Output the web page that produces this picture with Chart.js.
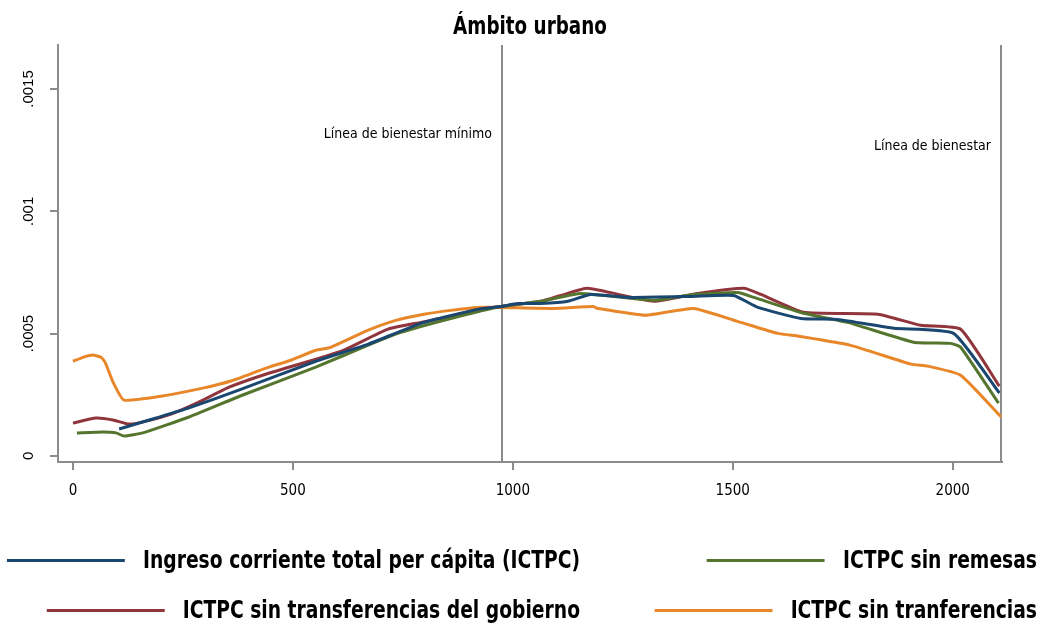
<!DOCTYPE html>
<html lang="es">
<head>
<meta charset="utf-8">
<title>Ámbito urbano</title>
<script src="https://cdn.jsdelivr.net/npm/chart.js@4.4.0/dist/chart.umd.min.js"></script>
<style>
  html, body { margin: 0; padding: 0; background: #fff; }
  #wrap { position: relative; width: 1040px; height: 628px; overflow: hidden; }
  #chart { position: absolute; left: 0; top: 0; }
  .title {
    position: absolute; left: 58px; width: 944px; top: 12px; text-align: center;
    font: bold 24px 'DejaVu Sans Condensed', 'Liberation Sans Narrow', sans-serif; color: #000;
    transform: scaleX(0.85); transform-origin: 472px 0;
  }
  .leg {
    position: absolute; height: 30px; display: flex; justify-content: flex-end; align-items: center;
    font: bold 24px 'DejaVu Sans Condensed', 'Liberation Sans Narrow', sans-serif; color: #000;
    white-space: nowrap; transform: scaleX(0.867); transform-origin: right center;
  }
  .leg i { display: inline-block; flex: 0 0 136px; height: 3px; margin-right: 21px; }
  .leg span { flex: 0 0 auto; }
</style>
</head>
<body>
<div id="wrap">
  <canvas id="chart" width="1040" height="628"></canvas>
  <div class="title">Ámbito urbano</div>
  <div id="legend"></div>
</div>
<script>
// ── DATA ──────────────────────────────────────────────
const xTicks = [0, 500, 1000, 1500, 2000];
const yTicks = [0, 0.0005, 0.001, 0.0015];

// ingreso per cápita (x) y densidad (y) de cada serie
const ictpcX = [105, 189, 264, 377, 552, 670, 791, 920, 973, 1011, 1064, 1125, 1177, 1268, 1405, 1502, 1557, 1655, 1739, 1866, 2002, 2106];
const ictpcY = [0.000110, 0.000155, 0.000196, 0.000269, 0.000387, 0.000456, 0.000542, 0.000599, 0.000611, 0.000623, 0.000623, 0.000632, 0.000660, 0.000648, 0.000652, 0.000656, 0.000607, 0.000562, 0.000558, 0.000522, 0.000501, 0.000257];

const remesasX = [9, 68, 98, 116, 159, 264, 386, 552, 670, 745, 859, 973, 1064, 1155, 1320, 1411, 1511, 1548, 1661, 1761, 1911, 1995, 2018, 2104];
const remesasY = [0.000094, 0.000098, 0.000094, 0.000081, 0.000094, 0.000159, 0.000249, 0.000363, 0.000452, 0.000505, 0.000562, 0.000611, 0.000632, 0.000664, 0.000636, 0.000660, 0.000668, 0.000648, 0.000583, 0.000546, 0.000465, 0.000460, 0.000444, 0.000216];

const gobiernoX = [0, 52, 91, 127, 159, 223, 286, 355, 445, 552, 616, 716, 791, 859, 920, 973, 1064, 1109, 1170, 1320, 1420, 1525, 1564, 1661, 1830, 1927, 2018, 2106];
const gobiernoY = [0.000134, 0.000155, 0.000147, 0.000130, 0.000139, 0.000171, 0.000220, 0.000281, 0.000338, 0.000395, 0.000432, 0.000518, 0.000546, 0.000571, 0.000599, 0.000611, 0.000632, 0.000656, 0.000685, 0.000632, 0.000664, 0.000685, 0.000660, 0.000587, 0.000579, 0.000534, 0.000518, 0.000285];

const transfX = [0, 23, 45, 64, 73, 91, 116, 200, 295, 359, 439, 495, 552, 586, 670, 734, 798, 859, 920, 973, 1093, 1182, 1193, 1302, 1411, 1518, 1602, 1650, 1768, 1905, 1943, 2018, 2110];
const transfY = [0.000387, 0.000403, 0.000412, 0.000403, 0.000383, 0.000302, 0.000228, 0.000244, 0.000277, 0.000306, 0.000359, 0.000391, 0.000432, 0.000444, 0.000513, 0.000554, 0.000579, 0.000595, 0.000607, 0.000607, 0.000603, 0.000611, 0.000603, 0.000575, 0.000603, 0.000546, 0.000501, 0.000489, 0.000452, 0.000375, 0.000367, 0.000330, 0.000159];

const seriesNames  = ['Ingreso corriente total per cápita (ICTPC)', 'ICTPC sin remesas', 'ICTPC sin transferencias del gobierno', 'ICTPC sin tranferencias'];
const seriesColors = ['#1a476f', '#55752f', '#90353b', '#e8872a'];

// líneas de bienestar
const lineasX   = [975, 2110];
const lineasTxt = ['Línea de bienestar mínimo', 'Línea de bienestar'];
const lineasTxtY = [0.001316, 0.001267];

const NARROW = "'DejaVu Sans Condensed', 'Liberation Sans Narrow', sans-serif";
const AXIS_GRAY = '#8c8c8c';

const pts = (xs, ys) => xs.map((x, i) => ({ x, y: ys[i] }));

// ── VERTICAL LINES + LABELS ───────────────────────────
const lineasPlugin = {
  id: 'lineas',
  beforeDatasetsDraw(chart) {
    const { ctx, chartArea, scales: { x, y } } = chart;
    ctx.save();
    ctx.strokeStyle = AXIS_GRAY;
    ctx.lineWidth = 2;
    lineasX.forEach((v, i) => {
      const px = Math.round(x.getPixelForValue(v));
      ctx.beginPath();
      ctx.moveTo(px, chartArea.top);
      ctx.lineTo(px, chartArea.bottom);
      ctx.stroke();
      ctx.fillStyle = '#000';
      ctx.font = `14px ${NARROW}`;
      ctx.textAlign = 'right';
      ctx.textBaseline = 'middle';
      ctx.fillText(lineasTxt[i], px - 10, y.getPixelForValue(lineasTxtY[i]));
    });
    ctx.restore();
  }
};

const datasets = [
  [ictpcX, ictpcY], [remesasX, remesasY], [gobiernoX, gobiernoY], [transfX, transfY]
].map(([xs, ys], i) => ({
  label: seriesNames[i],
  data: pts(xs, ys),
  borderColor: seriesColors[i],
  borderWidth: 3,
  pointRadius: 0,
  tension: 0.15,
  fill: false,
}));

new Chart(document.getElementById('chart'), {
  type: 'line',
  data: { datasets },
  plugins: [lineasPlugin],
  options: {
    responsive: false,
    animation: false,
    layout: { padding: { left: 0, right: 38, top: 45, bottom: 126 } },
    plugins: { legend: { display: false }, tooltip: { enabled: false } },
    scales: {
      x: {
        type: 'linear', min: -34, max: 2112,
        afterBuildTicks: s => { s.ticks = xTicks.map(value => ({ value })); },
        afterFit: s => { s.height = 40; },
        grid: { drawOnChartArea: false, drawTicks: true, tickLength: 8, color: AXIS_GRAY, lineWidth: 2 },
        border: { display: true, color: AXIS_GRAY, width: 2 },
        ticks: {
          color: '#000', font: { family: NARROW, size: 15 }, padding: 12, maxRotation: 0,
          callback: v => String(v),
        },
      },
      y: {
        type: 'linear', min: -0.000025, max: 0.00168,
        afterBuildTicks: s => { s.ticks = yTicks.map(value => ({ value })); },
        afterFit: s => { s.width = 58; },
        grid: { drawOnChartArea: false, drawTicks: true, tickLength: 8, color: AXIS_GRAY, lineWidth: 2 },
        border: { display: true, color: AXIS_GRAY, width: 2 },
        ticks: {
          color: '#000', font: { family: "'Liberation Sans', Arial, sans-serif", size: 15 },
          minRotation: 90, maxRotation: 90, crossAlign: 'center', padding: 2,
          callback: v => v === 0 ? '0' : String(v).replace(/^0/, ''),
        },
      },
    },
  },
});

// ── LEGEND ────────────────────────────────────────────
const legendPos = [
  { left: 0,   width: 580, top: 545 },
  { left: 600, width: 437, top: 545 },
  { left: 0,   width: 580, top: 595 },
  { left: 600, width: 437, top: 595 },
];
document.getElementById('legend').innerHTML = seriesNames.map((name, i) => {
  const p = legendPos[i];
  return `<div class="leg" style="left:${p.left}px;width:${p.width}px;top:${p.top}px">
    <i style="background:${seriesColors[i]}"></i><span>${name}</span></div>`;
}).join('');
</script>
</body>
</html>
